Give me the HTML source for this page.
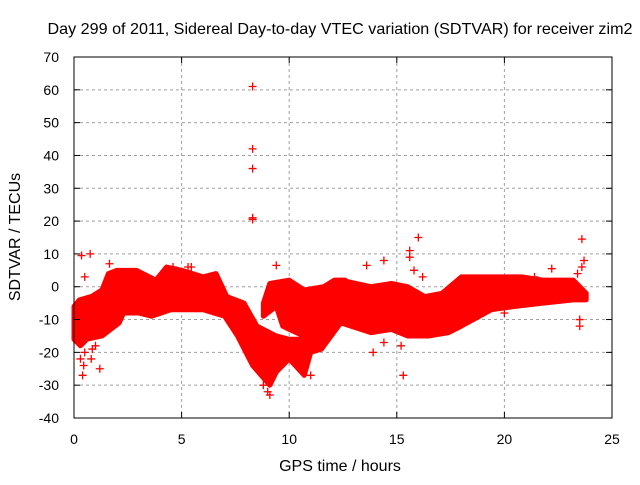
<!DOCTYPE html>
<html><head><meta charset="utf-8"><style>
body{margin:0;background:#fff;}
svg text{font-family:"Liberation Sans",sans-serif;fill:#000;}
</style></head><body>
<svg id="chart" width="640" height="480" xmlns="http://www.w3.org/2000/svg">
<rect width="640" height="480" fill="#fff"/>
<text x="340" y="34" font-size="16" text-anchor="middle" textLength="585" lengthAdjust="spacingAndGlyphs">Day 299 of 2011, Sidereal Day-to-day VTEC variation (SDTVAR) for receiver zim2</text>
<g id="grid"></g>
<g id="series"></g>
<rect x="74" y="57" width="538" height="361" fill="none" stroke="#000" stroke-width="1"/>
<g id="axes"></g>
<text x="340" y="471" font-size="16" text-anchor="middle">GPS time / hours</text>
<text transform="translate(20,237) rotate(-90)" font-size="16" text-anchor="middle">SDTVAR / TECUs</text>
</svg>
<script>
const xTicks=[0,5,10,15,20,25];
const yTicks=[-40,-30,-20,-10,0,10,20,30,40,50,60,70];
// main band envelope
const bandAUpT=[0,0.25,0.8,1.3,1.6,2,2.9,3.8,4.3,5,6,6.6,7.1,7.9,8.5,9.4,10,10.5,11,11.6,12.4,13.8,14.75,15.5,16.3,17.1,18,19.6,20.8,21.8,23.2,23.8];
const bandAUpV=[-6,-4,-3,-1,4,5,5,2,6,5,3,4,-3,-5,-12,-15,-16,-16,-17,-11,2,0,1,0,-3,-2,3,3,3,2,2,-2];
const bandALoT=[0,0.3,0.6,1.3,2.1,2.3,3,3.6,4.5,6,7,7.6,8.3,8.7,9.1,9.4,10,10.7,11,11.5,12.4,13.8,14.75,15.5,16.5,17.4,18,19.4,20.5,21.8,23.2,23.8];
const bandALoV=[-16,-18,-16,-15,-11,-8,-8,-9,-7,-7,-9,-15,-24,-27,-30,-26,-22,-27,-20,-19,-11,-14,-13,-15,-15,-14,-12,-7,-6,-5,-4,-4];
// upper branch (8.8h - 12.5h)
const bandBUpT=[8.8,9.1,10,10.7,11.6,12.1,12.6];
const bandBUpV=[-5,1,2,-1,0,2,2];
const bandBLoT=[8.8,9.4,9.7,10,11,11.6,12.1,12.6];
const bandBLoV=[-9,-6,-12,-13,-16,-11,-10,-8];
// isolated points
const outT=[0.35,0.75,0.5,1.65,8.3,8.3,8.3,8.3,8.3,9.4,4.6,5.3,5.45,13.6,14.4,15.6,15.6,16,15.3,23.6,22.2,21.4,13.9,9.0,9.1,0.4,1.2,0.8,0.5,16.4,15.2,14.4,23.5,23.5,20,11,0.1,0.2,23.6,23.7,0.3,0.45,0.85,1.0,8.8,10.7,14.2,15.8,16.2,23.4];
const outV=[9.5,10,3,7,61,42,36,21,20.5,6.5,6,6,6,6.5,8,11,9,15,-27,14.5,5.5,3,-20,-32,-33,-27,-25,-22,-20,-14,-18,-17,-12,-10,-8,-27,-12,-6,6,8,-22,-24,-19,-18,-30,-25,-5,5,3,4];
const X=v=>74+(v-0)*(612-74)/25;
const Y=v=>418-(v+40)*(418-57)/110;
const NS="http://www.w3.org/2000/svg";
const grid=document.getElementById('grid'),axes=document.getElementById('axes'),ser=document.getElementById('series');
function mk(t,a){const e=document.createElementNS(NS,t);for(const k in a)e.setAttribute(k,a[k]);return e;}
xTicks.forEach(t=>{
 if(t>0&&t<25){const g=mk('line',{x1:X(t),x2:X(t),y1:57,y2:418,stroke:'#a0a0a0','stroke-dasharray':'3,3'});
 
 grid.appendChild(g);}
 const l=mk('text',{x:X(t),y:444,'font-size':14,'text-anchor':'middle'});l.textContent=t;
 
 axes.appendChild(l);
 axes.appendChild(mk('line',{x1:X(t),x2:X(t),y1:418,y2:412,stroke:'#000'}));
 axes.appendChild(mk('line',{x1:X(t),x2:X(t),y1:57,y2:63,stroke:'#000'}));
});
yTicks.forEach(t=>{
 if(t>-40&&t<70){const g=mk('line',{x1:74,x2:612,y1:Y(t),y2:Y(t),stroke:'#a0a0a0','stroke-dasharray':'3,3'});
 
 grid.appendChild(g);}
 const l=mk('text',{x:59,y:Y(t)+5,'font-size':14,'text-anchor':'end'});l.textContent=t;
 
 axes.appendChild(l);
 axes.appendChild(mk('line',{x1:74,x2:80,y1:Y(t),y2:Y(t),stroke:'#000'}));
 axes.appendChild(mk('line',{x1:612,x2:606,y1:Y(t),y2:Y(t),stroke:'#000'}));
});
function band(ut,uv,lt,lv,name){
 const pts=[];ut.forEach((t,i)=>pts.push(X(t)+','+Y(uv[i])));
 for(let i=lt.length-1;i>=0;i--)pts.push(X(lt[i])+','+Y(lv[i]));
 const p=mk('polygon',{points:pts.join(' '),fill:'#ff0000',stroke:'#ff0000','stroke-width':5,'stroke-linejoin':'round'});
 
 
 ser.appendChild(p);
}
band(bandAUpT,bandAUpV,bandALoT,bandALoV,'main-band');
band(bandBUpT,bandBUpV,bandBLoT,bandBLoV,'upper-branch-band');
outT.forEach((t,i)=>{
 const x=X(t),y=Y(outV[i]);
 const p=mk('path',{d:`M${x-4},${y}H${x+4}M${x},${y-4}V${y+4}`,stroke:'#ff0000','stroke-width':1.3,fill:'none'});
 
 
 ser.appendChild(p);
});
</script>
</body></html>
